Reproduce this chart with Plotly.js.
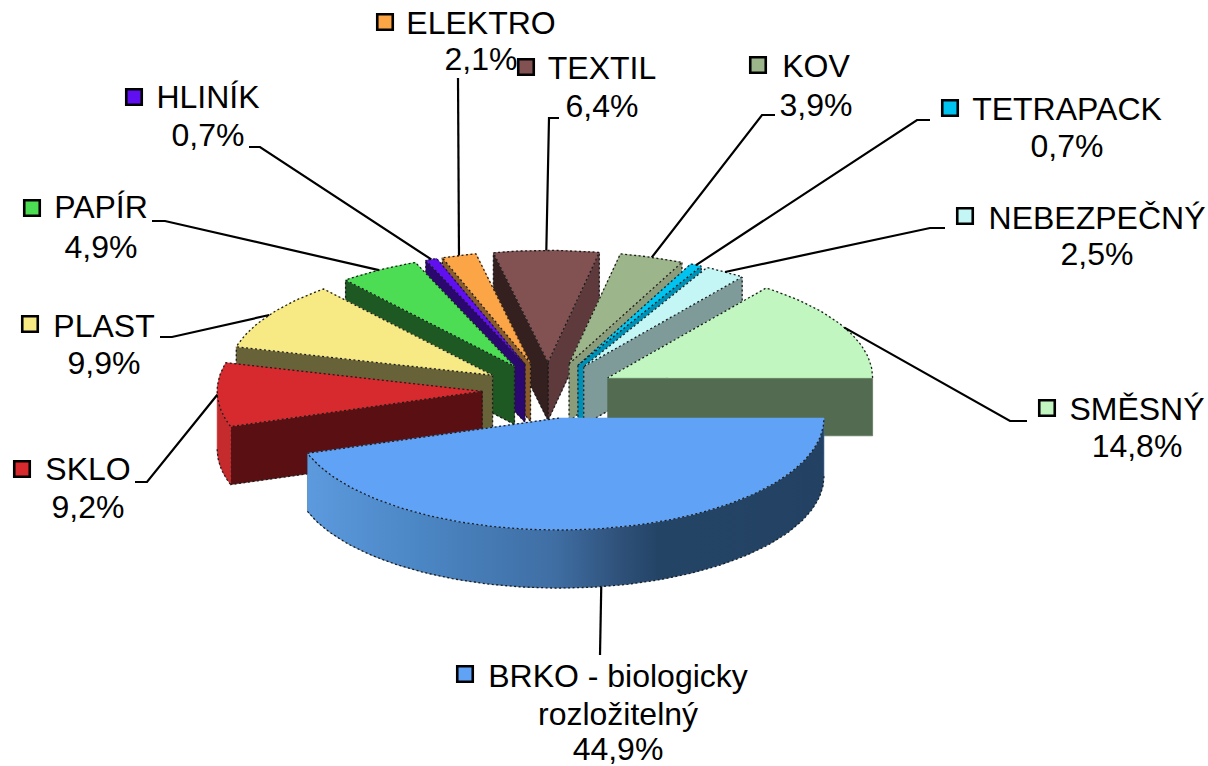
<!DOCTYPE html>
<html lang="cs">
<head>
<meta charset="utf-8">
<script src="https://cdn.plot.ly/plotly-3.0.1.min.js"></script>
<style>html,body{margin:0;padding:0;background:#fff}#chart{width:1208px;height:766px}</style>
</head>
<body>
<div id="chart"></div>
<script>
// ---- data (counter-clockwise from 3 o'clock) ----
const categories = ['SMĚSNÝ','NEBEZPEČNÝ','TETRAPACK','KOV','TEXTIL','ELEKTRO','HLINÍK','PAPÍR','PLAST','SKLO','BRKO - biologicky'];
const values = [14.8,2.5,0.7,3.9,6.4,2.1,0.7,4.9,9.9,9.2,44.9];

// ---- style ----
const topColors   = ['#c1f6c1','#c4f6f6','#00c3f0','#9db58a','#825152','#fba546','#6010f0','#4cdd55','#f7ea85','#d72a2e','#5fa2f6'];
const startWalls  = ['#536b50','#7e9a99','#0090b5','#8a9c7a','#5e3a3c','#8a5c2a','#2b0770','#1e5822','#686239','#5a1012','#234263'];
const endWalls    = ['#536b50','#7e9a99','#0090b5','#8a9c7a','#33201f','#8a5c2a','#2b0770','#1e5822','#686239','#5a1012','#234263'];
const outerWalls  = ['#536b50','#7e9a99','#0090b5','#8a9c7a','#5e3a3c','#8a5c2a','#2b0770','#1e5822','#686239','#c52a2d','#3f6ea3'];
const brkoGradient = [[0,'#5c9ade'],[0.22,'#4b86c4'],[0.48,'#3f6ea3'],[0.61,'#2e5078'],[0.68,'#244466'],[1,'#234263']];

// ---- pie geometry ----
const pie = {cx:548.4, cy:390.4, rx:265, ry:112, depth:58, explode:0.25};

// ---- label layout: [text centre x, first line y, value line y, key x, key y, elbow x, elbow y, end x, end y]
const labelLayout = [
  [1137,412,449,1047,408, 1010,421,1027,421],
  [1097,221,257, 965,216,  930,228, 945,228],
  [1067,112,149, 950,108,  917,120, 930,120],
  [ 816, 69,108, 758, 65,  762,115, 775,115],
  [ 602, 71,109, 526, 67,  549,118, 559,118],
  [ 481, 26, 62, 385, 22,  458, 78, 458, 78],
  [ 208,100,138, 134, 97,  260,147, 249,147],
  [ 101,210,250,  32,208,  165,221, 152,221],
  [ 104,329,366,  30,324,  172,337, 160,337],
  [  88,472,510,  22,469,  147,482, 135,482],
  [ 618,679,752, 465,674,  600,655, 600,655]
];
const extraLines = [{text:'rozložitelný', x:618, y:717}];

// ---- computed wedges ----
const rad = d => d*Math.PI/180;
let acc = 0;
const wedges = values.map((v,i)=>{
  const a = acc/100*360; acc += v; const b = acc/100*360; const m = (a+b)/2;
  const ax = pie.cx + pie.explode*pie.rx*Math.cos(rad(m));
  const ay = pie.cy - pie.explode*pie.ry*Math.sin(rad(m));
  return {i,a,b,m,ax,ay};
});
const px = (w,d) => w.ax + pie.rx*Math.cos(rad(d));
const py = (w,d) => w.ay - pie.ry*Math.sin(rad(d));
const arc = (w,from,to) => {
  const n = Math.max(2, Math.ceil(Math.abs(to-from)/1.5)); const xs=[],ys=[];
  for(let k=0;k<=n;k++){const d=from+(to-from)*k/n; xs.push(px(w,d)); ys.push(py(w,d));}
  return {xs,ys};
};

const traces = [];
const DOT = {color:'#1c1c1c', width:1.3, dash:'2px,2.5px'};
function poly(xs,ys,color,extra){
  traces.push(Object.assign({type:'scatter',mode:'lines',x:[...xs,xs[0]],y:[...ys,ys[0]],fill:'toself',fillcolor:color,
    line:{width:0.6,color:color},hoverinfo:'skip',showlegend:false,cliponaxis:false},extra||{}));
}
function stroke(xs,ys,line){
  traces.push({type:'scatter',mode:'lines',x:xs,y:ys,line:line,hoverinfo:'skip',showlegend:false,cliponaxis:false});
}
const flat = d => Math.abs(Math.sin(rad(d)))<1e-6;

[...wedges].sort((p,q)=>Math.sin(rad(q.m))-Math.sin(rad(p.m))).forEach(w=>{
  const i=w.i, D=pie.depth;
  // radial faces that point to the viewer
  const face=(d,color)=>{
    const ex=px(w,d), ey=py(w,d);
    poly([w.ax,ex,ex,w.ax],[w.ay,ey,ey+D,w.ay+D],color);
    if(!flat(d)) stroke([w.ax,w.ax,ex,ex],[w.ay,w.ay+D,ey+D,ey],DOT);
  };
  if(Math.cos(rad(w.a))>1e-6) face(w.a,startWalls[i]);
  if(Math.cos(rad(w.b))<-1e-6) face(w.b,endWalls[i]);
  // outer curved face (front part only)
  const from=Math.max(w.a,180), to=Math.min(w.b,360);
  if(to>from){
    const up=arc(w,from,to);
    const xs=[...up.xs,...[...up.xs].reverse()];
    const ys=[...up.ys,...[...up.ys].reverse().map(y=>y+D)];
    const isBig = values[i]===Math.max(...values);
    poly(xs,ys,outerWalls[i], isBig ? {fillgradient:{type:'horizontal',colorscale:brkoGradient}} : {});
    stroke(up.xs,up.ys.map(y=>y+D),DOT);
  }
  // top face
  const t=arc(w,w.a,w.b);
  poly([w.ax,...t.xs],[w.ay,...t.ys],topColors[i]);
  const ox=[...t.xs], oy=[...t.ys];
  if(!flat(w.b)){ox.push(w.ax);oy.push(w.ay);}
  if(!flat(w.a)){ox.unshift(w.ax);oy.unshift(w.ay);}
  stroke(ox,oy,DOT);
});

// ---- leaders, keys, labels ----
const FONT='"Liberation Sans", Arial, sans-serif';
const FS=32;
const fmt = v => v.toFixed(1).replace('.',',')+'%';
const textX=[],textY=[],textS=[];
wedges.forEach(w=>{
  const i=w.i, L=labelLayout[i];
  const s=Math.sin(rad(w.m));
  const sx=px(w,w.m), sy=py(w,w.m)+(s<-0.5?pie.depth:0);
  stroke([sx,L[5],L[7]],[sy,L[6],L[8]],{color:'#000',width:2.2});
  traces.push({type:'scatter',mode:'markers',x:[L[3]],y:[L[4]],
    marker:{symbol:'square',size:15.5,color:topColors[i],line:{color:'#000',width:2.6}},
    hoverinfo:'skip',showlegend:false,cliponaxis:false});
  textX.push(L[0],L[0]); textY.push(L[1],L[2]); textS.push(categories[i],fmt(values[i]));
});
extraLines.forEach(e=>{textX.push(e.x);textY.push(e.y);textS.push(e.text);});
traces.push({type:'scatter',mode:'text',x:textX,y:textY,text:textS,textposition:'middle center',
  textfont:{family:FONT,size:FS,color:'#000'},hoverinfo:'skip',showlegend:false,cliponaxis:false});

Plotly.newPlot('chart',traces,{
  width:1208,height:766,margin:{l:0,r:0,t:0,b:0},
  paper_bgcolor:'#fff',plot_bgcolor:'#fff',showlegend:false,
  xaxis:{range:[0,1208],visible:false,fixedrange:true},
  yaxis:{range:[766,0],visible:false,fixedrange:true}
},{staticPlot:true,displayModeBar:false});
</script>
</body>
</html>
